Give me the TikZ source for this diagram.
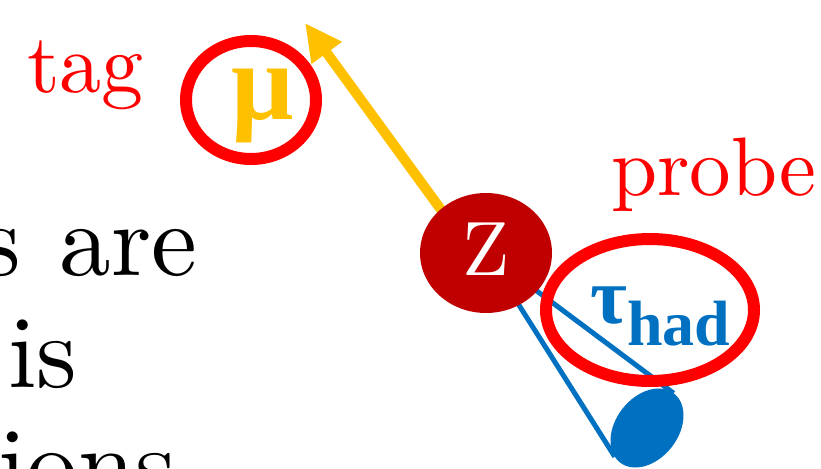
\documentclass[tikz,border=0pt]{standalone}
\usepackage{fontspec}
\setmainfont{lmroman10-regular.otf}
\newfontfamily\lserif{Liberation Serif}
\usetikzlibrary{shapes.geometric,arrows.meta}
\definecolor{tagred}{HTML}{FF0000}
\definecolor{zred}{HTML}{C00000}
\definecolor{gold}{HTML}{FFC000}
\definecolor{tblue}{HTML}{0070C0}
\newcommand{\widegap}{\hspace{39pt}}
\tikzset{
  ring/.style={ellipse, draw=tagred, line width=12pt, inner sep=0pt, fill=none},
  bigtext/.style={anchor=base west, inner sep=0pt, font=\fontsize{103}{103}\selectfont},
  redlabel/.style={anchor=base west, inner sep=0pt, text=tagred, font=\fontsize{84}{84}\selectfont},
  conebeam/.style={draw=tblue, line width=5pt},
}
\begin{document}
\begin{tikzpicture}[x=1pt,y=-1pt]
\useasboundingbox (0,0) rectangle (821,468);
\clip (0,0) rectangle (821,468);
% background text
\node[bigtext] (l1) at (-20,275) {s\widegap are};
\node[bigtext] (l2) at (8,387) {is};
\node[bigtext] (l3) at (-2,499) {ions};
% labels
\node[redlabel] (tag) at (27,93) {tag};
\node[redlabel, font=\fontsize{83}{83}\selectfont] (probe) at (611,195) {probe};
% coordinates
\coordinate (zc) at (486,253);
\coordinate (ms) at (458,233);
\coordinate (tip) at (305,23);
\coordinate (tu) at (673.6,393.2);
\coordinate (tl) at (614.8,456.7);
% muon arrow
\draw[gold, line width=10pt, -{Triangle[length=37pt,width=35pt]}] (ms) -- (tip);
% tau cone
\draw[conebeam] (zc) -- (tu);
\draw[conebeam] (zc) -- (tl);
\node[ellipse, fill=tblue, minimum width=87.6pt, minimum height=62.4pt, inner sep=0pt, rotate=52] (cone) at (647,428) {};
% Z boson
\node[ellipse, fill=zred, minimum width=132pt, minimum height=120pt, inner sep=0pt] (Z) at (zc) {};
\node[anchor=base, inner sep=0pt, text=white, font=\fontsize{77}{77}\selectfont] (zl) at (486.5,275) {Z};
% muon
\node[ring, minimum width=130pt, minimum height=118pt] (muring) at (251,100) {};
\node[anchor=base west, inner sep=0pt, text=gold, font=\lserif\bfseries\fontsize{110}{110}\selectfont] (mu) at (231,120) {μ};
% tau
\node[ring, minimum width=208pt, minimum height=142pt] (tauring) at (650,310) {};
\node[anchor=base west, inner sep=0pt, text=tblue, font=\lserif\bfseries\fontsize{80}{80}\selectfont] (tau) at (590,323) {τ\raisebox{-22pt}{\fontsize{64}{64}\selectfont had}};
\end{tikzpicture}
\end{document}
